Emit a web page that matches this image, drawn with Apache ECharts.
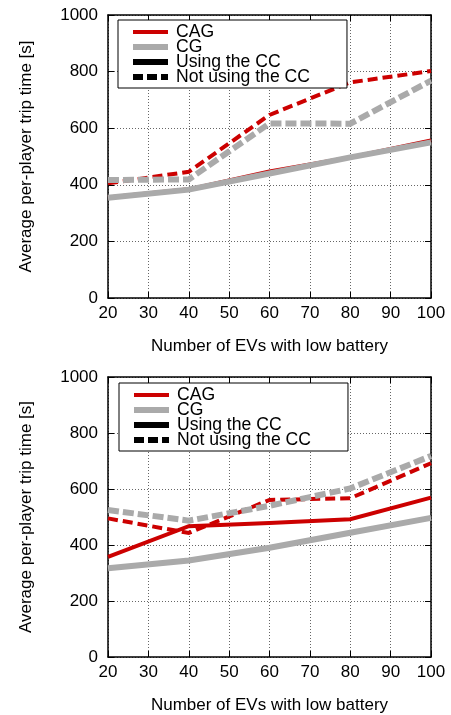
<!DOCTYPE html>
<html>
<head>
<meta charset="utf-8">
<script src="https://cdn.jsdelivr.net/npm/echarts@6/dist/echarts.min.js"></script>
<style>
html,body{margin:0;padding:0;background:#fff;}
#chart{width:451px;height:715px;}
</style>
</head>
<body>
<div id="chart"></div>
<script>
// ---- data ----
const evs = [20, 40, 60, 80, 100];
const xTicks = [20, 30, 40, 50, 60, 70, 80, 90, 100];
const yTicks = [0, 200, 400, 600, 800, 1000];

const topCAGUsing = [355, 384, 447, 497, 557];
const topCGUsing  = [354, 383, 440, 497, 550];
const topCAGNot   = [405, 446, 647, 762, 802];
const topCGNot    = [417, 419, 617, 616, 768];

const botCAGUsing = [358, 467, 479, 492, 569];
const botCGUsing  = [317, 345, 390, 444, 497];
const botCAGNot   = [495, 443, 561, 567, 692];
const botCGNot    = [525, 487, 540, 602, 718];

const legendNames = ['CAG', 'CG', 'Using the CC', 'Not using the CC'];
const xTitle = 'Number of EVs with low battery';
const yTitle = 'Average per-player trip time [s]';

// ---- styling ----
const FONT = "'Liberation Sans', Arial, Helvetica, sans-serif";
const RED = '#cc0000';
const GRAY = '#aaaaaa';
const legendLineStyles = [
  { width: 4, type: 'solid' },
  { width: 6, type: 'solid' },
  { width: 6, type: 'solid' },
  { width: 6, type: [10, 4] }
];

function pairs(ys) { return evs.map((x, i) => [x, ys[i]]); }

function xAxisDef(gridIndex, pos) {
  const main = pos === 'bottom';
  return {
    type: 'value', gridIndex, position: pos,
    min: xTicks[0], max: xTicks[xTicks.length - 1], interval: 10,
    name: main ? xTitle : '', nameLocation: 'middle', nameGap: 40,
    nameTextStyle: { fontFamily: FONT, fontSize: 17, color: '#000' },
    axisLine: { show: true, onZero: false, lineStyle: { color: '#000', width: 1.5 } },
    axisTick: { show: true, inside: true, length: 6, lineStyle: { color: '#000', width: 1 } },
    axisLabel: { show: main, margin: 7, fontFamily: FONT, fontSize: 17, color: '#000',
                 formatter: v => String(v) },
    splitLine: { show: main, lineStyle: { color: '#666', width: 1, type: [1, 2] } }
  };
}
function yAxisDef(gridIndex, pos) {
  const main = pos === 'left';
  return {
    type: 'value', gridIndex, position: pos,
    min: yTicks[0], max: yTicks[yTicks.length - 1], interval: 200,
    name: main ? yTitle : '', nameLocation: 'middle', nameGap: 73,
    nameTextStyle: { fontFamily: FONT, fontSize: 17, color: '#000' },
    axisLine: { show: true, onZero: false, lineStyle: { color: '#000', width: 1.5 } },
    axisTick: { show: true, inside: true, length: 6, lineStyle: { color: '#000', width: 1 } },
    axisLabel: { show: main, margin: 10, fontFamily: FONT, fontSize: 17, color: '#000',
                 formatter: v => String(v) },
    splitLine: { show: main, lineStyle: { color: '#666', width: 1, type: [1, 2] } }
  };
}

function lineSeries(name, ys, axisIdx, color, width, dash) {
  return {
    name, type: 'line', data: pairs(ys),
    xAxisIndex: axisIdx, yAxisIndex: axisIdx,
    showSymbol: false, symbol: 'none', silent: true,
    color,
    lineStyle: { color, width, type: dash || 'solid', cap: 'butt', join: 'miter' },
    itemStyle: { color },
    emphasis: { disabled: true },
    animation: false
  };
}

function legendDef(left, top) {
  return {
    left, top, orient: 'vertical',
    data: legendNames.map((n, i) => ({ name: n, lineStyle: legendLineStyles[i] })),
    itemWidth: 35, itemHeight: 8, itemGap: -3,
    padding: [3, 37, 2, 12],
    borderColor: '#000', borderWidth: 1,
    backgroundColor: '#fff',
    selectedMode: false,
    itemStyle: { color: 'rgba(0,0,0,0)', borderWidth: 0, opacity: 0 },
    textStyle: { fontFamily: FONT, fontSize: 17.6, color: '#000', padding: [0, 0, 0, 3] }
  };
}

const series = [];
// top chart (axis index 0)
series.push(lineSeries('CAG', topCAGUsing, 0, RED, 4));
series.push(lineSeries('CAG', topCAGNot, 0, RED, 4, [10, 5]));
series.push(lineSeries('CG', topCGUsing, 0, GRAY, 6));
series.push(lineSeries('CG', topCGNot, 0, GRAY, 6, [11, 4]));
// bottom chart (axis index 2)
series.push(lineSeries('CAG', botCAGUsing, 2, RED, 4));
series.push(lineSeries('CAG', botCAGNot, 2, RED, 4, [10, 5]));
series.push(lineSeries('CG', botCGUsing, 2, GRAY, 6));
series.push(lineSeries('CG', botCGNot, 2, GRAY, 6, [11, 4]));
// legend-only style entries
series.push(lineSeries('Using the CC', [], 0, '#000', 6));
series.push(lineSeries('Not using the CC', [], 0, '#000', 6, [10, 4]));

const option = {
  animation: false,
  backgroundColor: '#fff',
  grid: [
    { left: 108, right: 20, top: 15, height: 283 },
    { left: 108, right: 20, top: 377, height: 284 }
  ],
  xAxis: [xAxisDef(0, 'bottom'), xAxisDef(0, 'top'), xAxisDef(1, 'bottom'), xAxisDef(1, 'top')],
  yAxis: [yAxisDef(0, 'left'), yAxisDef(0, 'right'), yAxisDef(1, 'left'), yAxisDef(1, 'right')],
  legend: [legendDef(118, 20), legendDef(119, 383)],
  series
};

const chart = echarts.init(document.getElementById('chart'), null, { renderer: 'canvas' });
chart.setOption(option);
</script>
</body>
</html>
